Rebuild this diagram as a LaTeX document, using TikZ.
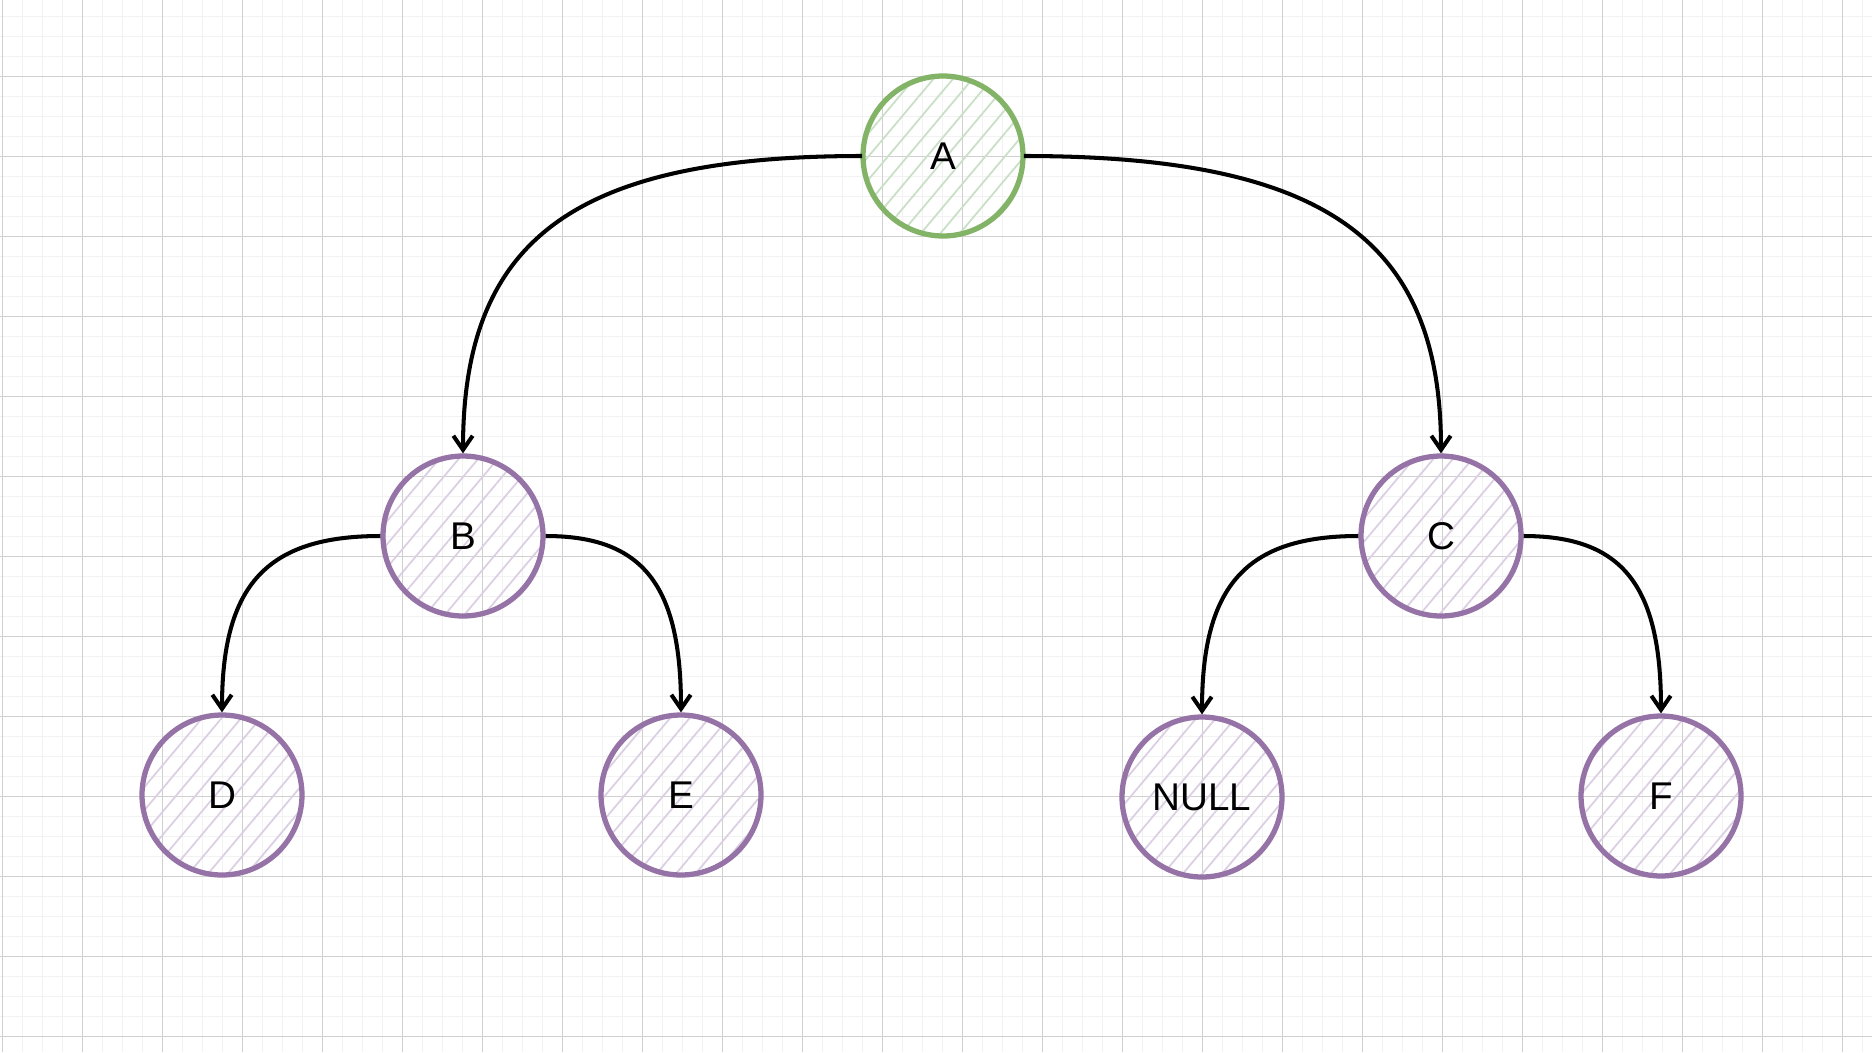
\documentclass[tikz,border=0pt]{standalone}
\usepackage{fontspec}
\setmainfont{Liberation Sans}
\usetikzlibrary{arrows.meta, calc, patterns.meta}
\definecolor{rootLine}{HTML}{82B366}
\definecolor{rootHatch}{HTML}{C9E0C6}
\definecolor{leafLine}{HTML}{9673A6}
\definecolor{leafHatch}{HTML}{DCCFE4}
\definecolor{gridMajor}{HTML}{D0D0D0}
\definecolor{gridMinor}{HTML}{F2F2F2}
\tikzstyle{minorGrid}=[draw=gridMinor, line width=0.75pt]
\tikzstyle{majorGrid}=[draw=gridMajor, line width=0.6pt]
\tikzstyle{treeNode}=[circle, minimum size=3.2cm, inner sep=0pt, line width=3pt,
  font=\fontsize{22}{26}\selectfont]
\tikzstyle{rootNode}=[treeNode, draw=rootLine,
  pattern={Lines[angle=50, distance=8.5pt, line width=1pt]}, pattern color=rootHatch]
\tikzstyle{childNode}=[treeNode, draw=leafLine,
  pattern={Lines[angle=50, distance=8.5pt, line width=1pt]}, pattern color=leafHatch]
\tikzstyle{arrow}=[-{Straight Barb[length=8pt, width=11pt]}, line width=2.3pt, draw=black]
\tikzset{curvedEdge/.style={to path={
  .. controls ($(\tikztostart)!0.72!(\tikztotarget |- \tikztostart)$)
  and ($(\tikztotarget)!0.72!(\tikztotarget |- \tikztostart)$) .. (\tikztotarget)}}}

\begin{document}
\begin{tikzpicture}[x=0.02cm, y=-0.02cm]
      \useasboundingbox (0,0) rectangle (1872,1052);
      \fill[white] (0,0) rectangle (1872,1052);
      % grid paper
      \foreach \x in {2.5,22.5,...,1862.5}
        \draw[minorGrid] (\x,0) -- (\x,1052);
      \foreach \y in {16.3,36.3,...,1036.3}
        \draw[minorGrid] (0,\y) -- (1872,\y);
      \foreach \x in {2.5,82.5,...,1842.5}
        \draw[majorGrid] (\x,0) -- (\x,1052);
      \foreach \y in {76.3,156.3,...,1036.3}
        \draw[majorGrid] (0,\y) -- (1872,\y);

      \node[rootNode] (A) at (943,156) {A};
      \node[childNode] (B) at (463,536) {B};
      \node[childNode] (C) at (1441,536) {C};
      \node[childNode] (D) at (222,795) {D};
      \node[childNode] (E) at (681,795) {E};
      \node[childNode] (nullLeaf) at (1202,797) {NULL};
      \node[childNode] (F) at (1661,796) {F};

      \draw[arrow] (A.west) to[curvedEdge] (B.north);
      \draw[arrow] (A.east) to[curvedEdge] (C.north);
      \draw[arrow] (B.west) to[curvedEdge] (D.north);
      \draw[arrow] (B.east) to[curvedEdge] (E.north);
      \draw[arrow] (C.west) to[curvedEdge] (nullLeaf.north);
      \draw[arrow] (C.east) to[curvedEdge] (F.north);
    \end{tikzpicture}
\end{document}
